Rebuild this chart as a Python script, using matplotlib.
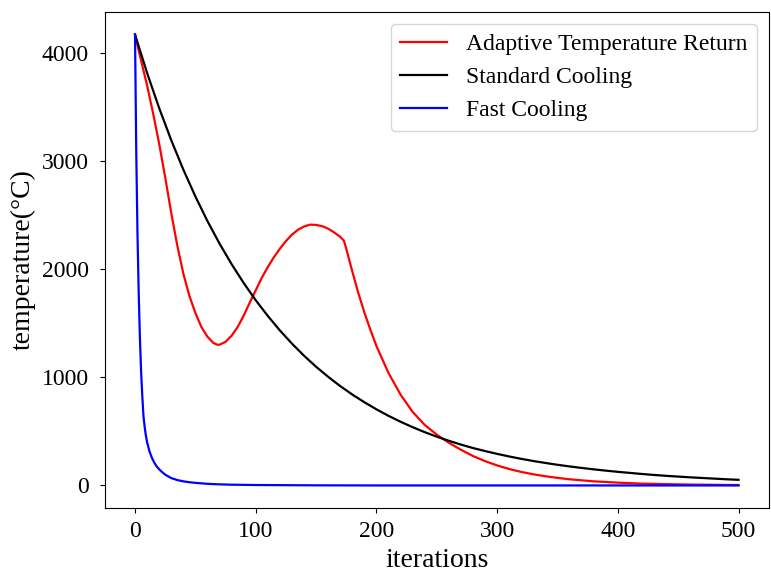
import matplotlib
matplotlib.use("Agg")
import matplotlib.pyplot as plt

# dados
padrao_iter = list(range(0, 501, 10))
padrao_temp = [4170, 3815, 3490, 3193, 2922, 2673, 2445, 2237, 2047, 1873,
               1713, 1568, 1434, 1312, 1200, 1098, 1005, 919, 841, 770,
               704, 644, 589, 539, 493, 451, 413, 378, 346, 318,
               292, 268, 246, 226, 208, 191, 176, 162, 149, 137,
               126, 116, 106, 97, 89, 82, 75, 69, 63, 57, 52]

adapt_iter = [0, 5, 10, 15, 20, 25, 30, 35, 40, 45, 50, 55, 60, 65, 68, 70, 75,
              80, 85, 90, 95, 100, 105, 110, 115, 120, 125, 130, 135, 140, 145,
              150, 155, 160, 165, 170, 173, 175, 180, 185, 190, 195, 200, 210,
              220, 230, 240, 250, 260, 270, 280, 290, 300, 310, 320, 330, 340,
              350, 360, 380, 400, 420, 440, 460, 480, 500]
adapt_temp = [4170, 3930, 3700, 3440, 3160, 2850, 2520, 2220, 1960, 1755, 1595,
              1465, 1375, 1318, 1302, 1302, 1328, 1385, 1465, 1570, 1690, 1805,
              1920, 2020, 2110, 2190, 2260, 2320, 2365, 2395, 2412, 2410, 2398,
              2375, 2340, 2300, 2265, 2190, 1980, 1780, 1600, 1440, 1290, 1040,
              840, 680, 560, 470, 395, 330, 272, 225, 185, 152, 125, 103, 85,
              70, 57, 38, 26, 17, 12, 8, 6, 4]

rapido_iter = [0, 1, 2, 3, 4, 5, 6, 7, 8, 9, 10, 12, 14, 16, 18, 20, 22, 25, 30,
               35, 40, 45, 50, 60, 70, 80, 100, 150, 200, 300, 400, 500]
rapido_temp = [4170, 3100, 2350, 1800, 1380, 1060, 830, 640, 540, 460, 400, 315,
               255, 210, 175, 150, 128, 100, 68, 50, 38, 30, 24, 15, 10, 7, 4,
               1, 0, 0, 0, 0]

plt.rcParams["font.family"] = ["Liberation Serif", "DejaVu Serif"]

fig = plt.figure(figsize=(7.71, 5.74), dpi=100)
ax = fig.add_axes([0.136, 0.115, 0.861, 0.864])

ax.plot(adapt_iter, adapt_temp, color="red", lw=1.6, label="Adaptive Temperature Return")
ax.plot(padrao_iter, padrao_temp, color="black", lw=1.6, label="Standard Cooling")
ax.plot(rapido_iter, rapido_temp, color="blue", lw=1.6, label="Fast Cooling")

ax.set_xlabel("iterations", fontsize=20)
ax.set_ylabel("temperature(°C)", fontsize=20)
ax.set_xticks([0, 100, 200, 300, 400, 500])
ax.set_yticks([0, 1000, 2000, 3000, 4000])
ax.tick_params(labelsize=17)
ax.tick_params(axis="y", pad=8)
ax.tick_params(axis="x", pad=6)
ax.legend(loc="upper right", fontsize=17)

plt.savefig("out.png", dpi=100)
